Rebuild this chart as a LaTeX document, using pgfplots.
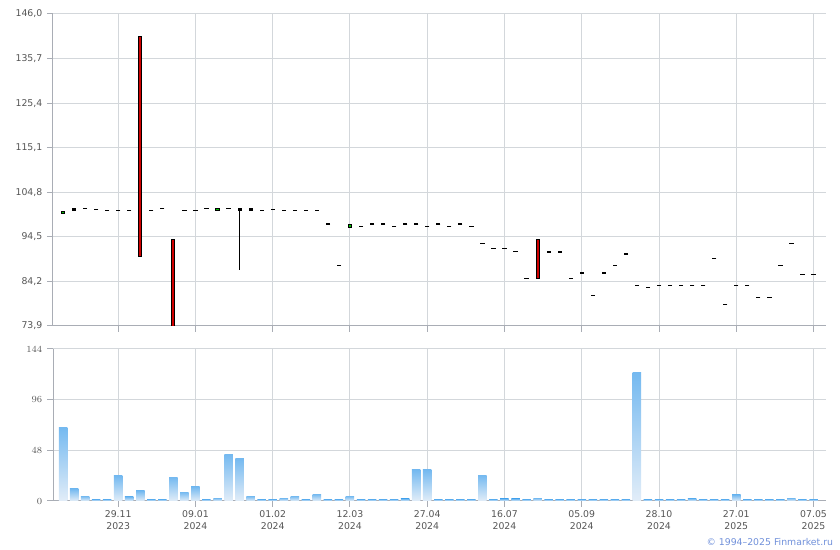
\documentclass[border=0pt]{standalone}
\usepackage{fontspec}
\setmainfont{DejaVu Sans}
\usepackage{pgfplots}
\pgfplotsset{compat=1.18}
\usepackage{pgfplotstable}
\definecolor{gridc}{HTML}{D3D7DB}
\definecolor{spinec}{HTML}{A9ADB5}
\definecolor{tickt}{HTML}{555555}
\definecolor{upc}{HTML}{00C000}
\definecolor{downc}{HTML}{D00000}
\definecolor{voltop}{HTML}{74B9F0}
\definecolor{volbot}{HTML}{E2EDF8}
\definecolor{copyc}{HTML}{7090DA}

% dojis (open = close): index, price
\pgfplotstableread{
i v
2 101.1
3 100.85
4 100.6
5 100.6
6 100.6
8 100.6
9 101.1
11 100.6
12 100.6
13 101.1
15 101.1
18 100.6
19 100.85
20 100.6
21 100.6
22 100.6
23 100.6
24 97.5
25 87.9
27 96.85
28 97.5
29 97.5
30 96.85
31 97.5
32 97.5
33 96.85
34 97.5
35 96.85
36 97.5
37 96.85
38 93.0
39 91.85
40 91.85
41 91.15
42 84.9
44 91.0
45 91.0
46 84.9
47 86.1
48 81.0
49 86.1
50 87.9
51 90.5
52 83.3
53 82.85
54 83.3
55 83.3
56 83.3
57 83.3
58 83.3
59 89.5
60 78.9
61 83.3
62 83.3
63 80.5
64 80.5
65 87.9
66 93.0
67 85.8
68 85.8
}\dojis

% volumes
\pgfplotstableread{
i v
0 70.1
1 11.4
2 4.7
3 1.5
4 1.5
5 23.7
6 3.8
7 9.5
8 1.5
9 1.5
10 22.7
11 8.5
12 13.3
13 1.5
14 2.8
15 44.5
16 40.7
17 4.7
18 1.5
19 1.5
20 2.8
21 4.7
22 1.5
23 6.6
24 1.5
25 1.5
26 4.7
27 1.5
28 1.5
29 1.5
30 1.5
31 1.9
32 29.4
33 29.4
34 1.5
35 1.5
36 1.5
37 1.5
38 24.6
39 1.5
40 1.9
41 1.9
42 1.5
43 2.8
44 1.5
45 1.5
46 1.5
47 1.5
48 1.5
49 1.5
50 1.5
51 1.5
52 122.2
53 1.5
54 1.5
55 1.5
56 1.5
57 2.2
58 1.5
59 1.5
60 1.5
61 5.7
62 1.5
63 1.5
64 1.5
65 1.5
66 2.8
67 1.5
68 1.5
}\vols

\pgfplotsset{
  common/.style={
    scale only axis,
    anchor=south west,
    width=579.75pt,
    xmin=-0.907, xmax=69.13,
    xtick={5,12,...,68},
    grid=major,
    major grid style={gridc, line width=0.75pt},
    axis lines*=left,
    axis line style={spinec, line width=0.75pt},
    tick style={spinec, line width=0.75pt},
    tick align=outside,
    major tick length=4.5pt,
    ticklabel style={font=\fontsize{7}{9}\selectfont, text=tickt},
  }
}

\begin{document}
\begin{tikzpicture}
\useasboundingbox (0pt,0pt) rectangle (630pt,412.5pt);

\begin{axis}[common,
  at={(39.75pt,168pt)}, height=234pt,
  ymin=73.9, ymax=146,
  ytick={73.9,84.2,94.5,104.8,115.1,125.4,135.7,146},
  yticklabels={{73,9},{84,2},{94,5},{104,8},{115,1},{125,4},{135,7},{146,0}},
  xticklabels={},
]
% wick
\addplot[black, line width=0.75pt] coordinates {(16,100.8) (16,86.9)};
% dojis
\addplot[only marks, mark=-, mark size=1.6pt,
  mark options={line width=1.1pt, black}] table[x=i, y=v] \dojis;
% falling candles
\addplot[fill=downc, draw=black, line width=0.75pt] coordinates
  {(6.86,140.76) (7.14,140.76) (7.14,90.0) (6.86,90.0)} -- cycle;
\addplot[fill=downc, draw=black, line width=0.75pt] coordinates
  {(9.86,93.9) (10.14,93.9) (10.14,73.0) (9.86,73.0)} -- cycle;
\addplot[fill=downc, draw=black, line width=0.75pt] coordinates
  {(42.86,93.85) (43.14,93.85) (43.14,84.9) (42.86,84.9)} -- cycle;
% rising candles
\addplot[fill=upc, draw=black, line width=0.75pt] coordinates
  {(-0.15,99.95) (0.15,99.95) (0.15,100.45) (-0.15,100.45)} -- cycle;
\addplot[fill=upc, draw=black, line width=0.75pt] coordinates
  {(13.85,100.6) (14.15,100.6) (14.15,101.1) (13.85,101.1)} -- cycle;
\addplot[fill=upc, draw=black, line width=0.75pt] coordinates
  {(25.85,96.75) (26.15,96.75) (26.15,97.25) (25.85,97.25)} -- cycle;
% flat small bodies
\addplot[fill=black, draw=black, line width=0.75pt] coordinates
  {(0.87,100.65) (1.13,100.65) (1.13,100.95) (0.87,100.95)} -- cycle;
\addplot[fill=black, draw=black, line width=0.75pt] coordinates
  {(15.87,100.65) (16.13,100.65) (16.13,100.95) (15.87,100.95)} -- cycle;
\addplot[fill=black, draw=black, line width=0.75pt] coordinates
  {(16.87,100.65) (17.13,100.65) (17.13,100.95) (16.87,100.95)} -- cycle;
\end{axis}

\begin{axis}[common,
  at={(39.75pt,36.75pt)}, height=114pt,
  ymin=0, ymax=144, ytick={0,48,96,144},
  xticklabels={{29.11\\2023},{09.01\\2024},{01.02\\2024},{12.03\\2024},{27.04\\2024},{16.07\\2024},{05.09\\2024},{28.10\\2024},{27.01\\2025},{07.05\\2025}},
  xticklabel style={align=center, yshift=1.2pt},
]
\pgfplotsinvokeforeach{0,...,68}{
  \addplot[ybar, bar width=0.77, bar shift=0pt, draw=none,
    top color=voltop, bottom color=volbot,
    x filter/.expression={abs(x-#1)<0.3 ? x : nan}] table[x=i, y=v] \vols;
}
\end{axis}

\node[anchor=base east, text=copyc, font=\fontsize{7}{9}\selectfont, inner sep=0pt]
  at (625pt,3.4pt) {© 1994–2025 Finmarket.ru};
\end{tikzpicture}
\end{document}
